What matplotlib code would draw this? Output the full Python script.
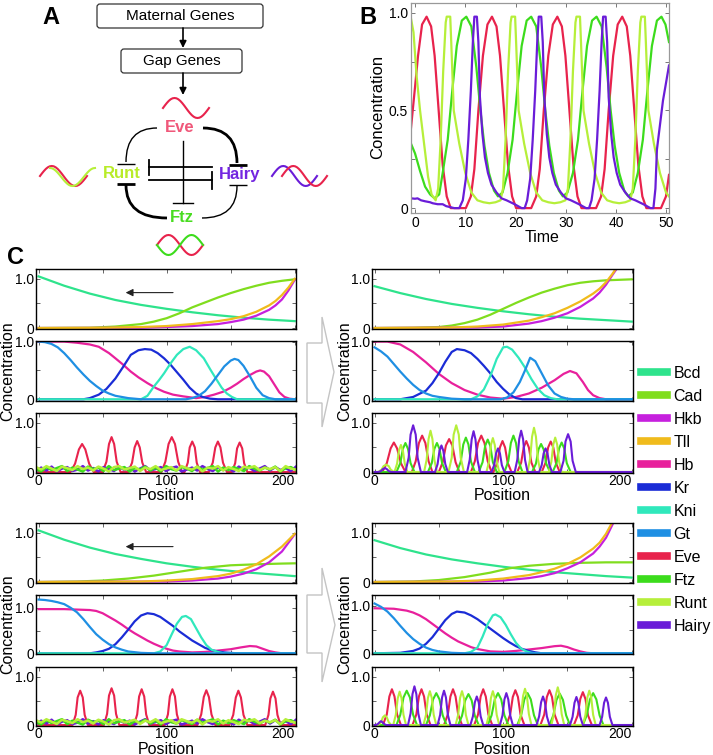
import numpy as np
import matplotlib
matplotlib.use("Agg")
import matplotlib.pyplot as plt
from matplotlib.patches import FancyBboxPatch, Polygon, PathPatch
from matplotlib.path import Path
from matplotlib.lines import Line2D

plt.rcParams['font.family'] = ['Liberation Sans', 'DejaVu Sans']

# ---------------- colours / legend ----------------
gene_names = ["Bcd", "Cad", "Hkb", "Tll", "Hb", "Kr", "Kni", "Gt", "Eve", "Ftz", "Runt", "Hairy"]
gene_colors = ["#2ee38c", "#80dd1e", "#c620de", "#f0bb1c", "#e8209c", "#1a2cd6",
               "#30e8bc", "#1f8fe3", "#e8234c", "#3cdc1c", "#b6ef3a", "#6a1cd8"]
col = dict(zip(gene_names, gene_colors))

# ---------------- panel B: oscillator time courses ----------------
b_eve = [(-0.8,.41),(0,.62),(0.6,.78),(1.4,.94),(2.3,.98),(3.2,.93),(3.9,.78),(4.7,.5),(5.5,.22),(6.3,.06),(7.1,0),
         (10.1,0),(11.1,.06),(11.8,.2),(12.6,.5),(13.5,.78),(14.4,.94),(15.3,.98),(16.2,.93),(16.9,.78),(17.7,.5),(18.5,.22),(19.3,.06),(20.1,0),
         (23.1,0),(24.1,.06),(24.8,.2),(25.6,.5),(26.5,.78),(27.4,.94),(28.3,.98),(29.2,.93),(29.9,.78),(30.7,.5),(31.5,.22),(32.3,.06),(33.1,0),
         (36.0,0),(37.0,.06),(37.7,.2),(38.5,.5),(39.4,.78),(40.3,.94),(41.2,.98),(42.1,.93),(42.8,.78),(43.6,.5),(44.4,.22),(45.2,.06),(46.0,0),
         (48.9,0),(49.9,.06),(50.5,.17)]
b_ftz = [(-0.8,.33),(0,.28),(1,.19),(2,.11),(3,.07),(3.9,.05),(4.8,.07),(5.5,.18),(6.5,.35),(7.4,.6),(8.3,.83),(9.3,.96),(10.2,.98),
         (11.2,.93),(12.2,.72),(13.0,.5),(13.8,.32),(14.7,.18),(15.7,.09),(16.5,.06),(17.4,.08),(18.4,.18),(19.4,.35),(20.3,.6),(21.2,.83),(22.2,.96),(23.1,.98),
         (24.1,.93),(25.1,.72),(25.9,.5),(26.7,.32),(27.6,.18),(28.6,.09),(29.4,.06),(30.3,.08),(31.4,.18),(32.4,.35),(33.3,.6),(34.2,.83),(35.2,.96),(36.1,.98),
         (37.1,.93),(38.1,.72),(38.9,.5),(39.7,.32),(40.6,.18),(41.6,.09),(42.4,.06),(43.3,.08),(44.3,.18),(45.3,.35),(46.2,.6),(47.1,.83),(48.1,.96),(49.0,.98),
         (49.8,.94),(50.5,.85)]
b_runt = [(-0.8,.97),(-0.3,.9),(0.3,.68),(1.0,.5),(1.8,.33),(2.6,.16),(3.3,.07),(4.1,.04),(4.6,.1),(5.1,.35),(5.6,.7),(6.1,.95),(6.3,.98),(7.0,.98),
          (7.2,.85),(7.7,.5),(8.8,.33),(10.0,.18),(11.2,.08),(12.4,.04),(13.6,.03),(14.8,.025),(16.0,.03),
          (17.0,.04),(17.5,.1),(18.0,.35),(18.5,.7),(19.0,.95),(19.2,.98),(19.9,.98),(20.1,.85),(20.6,.5),(21.7,.33),(22.9,.18),(24.1,.08),(25.3,.04),(26.5,.03),(27.7,.025),(28.9,.03),
          (29.9,.04),(30.4,.1),(30.9,.35),(31.4,.7),(31.9,.95),(32.1,.98),(32.8,.98),(33.0,.85),(33.5,.5),(34.6,.33),(35.8,.18),(37.0,.08),(38.2,.04),(39.4,.03),(40.6,.025),(41.8,.03),
          (42.8,.04),(43.3,.1),(43.8,.35),(44.3,.7),(44.8,.95),(45.0,.98),(45.7,.98),(45.9,.85),(46.4,.5),(47.5,.33),(48.7,.18),(49.9,.08),(50.5,.06)]
b_hairy = [(-0.8,.05),(0,.048),(0.5,.05),(1.2,.04),(2,.035),(3,.03),(3.5,.025),(4.5,.02),(5.5,.02),(6.2,.01),(7,.005),(7.8,0),(8.8,0),
           (9.5,.04),(10.1,.15),(10.6,.35),(11.1,.6),(11.5,.85),(11.8,.98),(12.3,.98),(12.6,.85),(12.9,.57),(13.4,.38),(13.9,.26),(14.5,.18),(15.2,.12),
           (16.2,.08),(17.2,.05),(18.2,.04),(19,.03),(19.8,.02),(20.5,.01),(21.2,0),(21.8,0),
           (22.3,.04),(22.9,.15),(23.4,.35),(23.9,.6),(24.3,.85),(24.6,.98),(25.1,.98),(25.4,.85),(25.7,.57),(26.2,.38),(26.7,.26),(27.3,.18),(28.0,.12),
           (29.0,.08),(30.0,.05),(31.0,.04),(31.8,.03),(32.6,.02),(33.3,.01),(34.0,0),(34.6,0),
           (35.1,.04),(35.7,.15),(36.2,.35),(36.7,.6),(37.1,.85),(37.4,.98),(37.9,.98),(38.2,.85),(38.5,.57),(39.0,.38),(39.5,.26),(40.1,.18),(40.8,.12),
           (41.8,.08),(42.8,.05),(43.8,.04),(44.6,.03),(45.4,.02),(46.1,.01),(46.8,0),(47.4,0),
           (47.8,.1),(48.1,.3),(49.3,.55),(50.5,.73)]

# ---------------- panel C: maternal gradients (top rows) ----------------
ul_bcd = ([0,20,40,60,80,100,120,140,160,180,200], [1.05,.86,.70,.57,.47,.39,.32,.26,.21,.17,.14])
ul_cad = ([0,40,60,80,90,100,110,120,130,140,150,160,170,180,190,200],
          [0,.005,.03,.08,.13,.2,.3,.42,.52,.62,.71,.79,.86,.92,.96,.99])
ul_tll = ([0,50,80,100,120,140,150,160,170,180,185,190,195,200],
          [0,.005,.02,.04,.08,.14,.18,.24,.33,.46,.55,.67,.82,1.0])
ul_hkb = ([0,80,100,120,140,150,160,170,180,185,190,195,200],
          [0,.005,.02,.04,.08,.12,.17,.25,.37,.46,.58,.76,.98])

ur_bcd = ([0,20,40,60,80,100,120,140,160,180,200], [.85,.71,.59,.49,.41,.34,.28,.23,.19,.16,.13])
ur_cad = ([0,30,50,60,70,80,90,100,110,120,130,140,150,160,170,180,190,200],
          [0,.005,.02,.05,.1,.17,.27,.39,.51,.62,.72,.8,.87,.92,.95,.97,.98,.99])
ur_tll = ([0,60,80,100,120,130,140,150,160,170,175,180,185,188],
          [0,.01,.03,.07,.15,.22,.3,.41,.54,.7,.8,.93,1.1,1.22])
ur_hkb = ([0,80,100,120,130,140,150,160,170,175,180,185,189],
          [0,.01,.03,.09,.14,.21,.3,.43,.6,.72,.88,1.08,1.23])

ll_bcd = ([0,20,40,60,80,100,120,140,160,180,200], [1.05,.86,.70,.57,.47,.38,.31,.25,.2,.16,.12])
ll_cad = ([0,30,50,70,90,110,130,150,170,190,200], [0,.01,.03,.07,.13,.21,.29,.34,.36,.375,.38])
ll_tll = ([0,80,100,120,140,150,160,170,180,190,200], [0,.01,.03,.06,.12,.17,.25,.36,.52,.72,.98])
ll_hkb = ([0,100,120,140,150,160,170,180,190,200], [0,.01,.03,.07,.11,.17,.26,.4,.62,.97])

lr_bcd = ([0,20,40,60,80,100,120,140,160,180,200], [.85,.69,.56,.46,.38,.31,.25,.2,.16,.12,.09])
lr_cad = ([0,30,50,70,90,105,120,140,160,180,200], [0,.01,.04,.1,.19,.28,.33,.37,.39,.4,.4])
lr_tll = ([0,60,80,100,120,130,140,150,160,170,175,180,185],
          [0,.01,.03,.07,.14,.2,.27,.37,.5,.68,.8,.98,1.22])
lr_hkb = ([0,80,100,120,130,140,150,160,170,175,180,186],
          [0,.01,.03,.08,.12,.18,.28,.4,.58,.72,.9,1.22])

# ---------------- panel C: gap genes (middle rows) ----------------
ul_gt = ([0,5,10,15,20,25,30,35,40,45,50,55,60,70,80,115,120,125,130,135,140,145,150,153,156,160,165,170,175,180,185,200],
         [1.0,.99,.96,.9,.8,.68,.55,.43,.32,.23,.15,.1,.06,.02,0,0,.02,.06,.14,.27,.42,.57,.67,.7,.68,.58,.4,.2,.07,.02,0,0])
ul_hb = ([0,20,30,40,47,55,60,66,72,78,85,92,98,105,113,123,130,137,144,150,155,160,165,170,173,176,180,184,188,192,196,200],
         [1.0,1.0,.98,.95,.91,.8,.71,.6,.48,.38,.28,.19,.13,.08,.05,.02,.04,.08,.13,.2,.27,.35,.42,.48,.5,.48,.4,.26,.12,.04,.01,0])
ul_kr = ([0,35,40,47,53,60,66,72,78,83,88,93,98,103,108,113,118,123,128,134,140,200],
         [0,0,.02,.08,.18,.36,.56,.77,.85,.87,.86,.8,.71,.6,.47,.34,.2,.1,.04,.01,0,0])
ul_kni = ([0,80,85,90,94,98,103,108,113,118,123,129,134,139,143,147,151,155,200],
          [0,0,.06,.22,.33,.45,.62,.77,.87,.91,.85,.71,.52,.34,.2,.1,.04,0,0])

ur_gt = ([0,5,10,15,20,25,30,35,40,45,50,60,70,98,103,108,113,117,121,125,130,135,140,145,150,155,200],
         [.9,.83,.74,.61,.48,.36,.25,.16,.1,.06,.04,.01,0,0,.03,.12,.3,.5,.72,.66,.45,.24,.1,.04,.01,0,0])
ur_hb = ([0,10,20,30,40,50,60,70,80,90,100,110,120,130,140,147,152,157,162,166,170,175,180,200],
         [1.0,1.0,.95,.82,.64,.44,.28,.16,.08,.03,.01,.04,.1,.2,.33,.44,.49,.45,.3,.16,.07,.02,0,0])
ur_kr = ([0,20,30,40,45,50,55,60,64,70,75,80,85,90,95,100,105,110,115,200],
         [0,0,.04,.15,.28,.45,.65,.82,.87,.85,.8,.7,.58,.45,.3,.18,.08,.02,0,0])
ur_kni = ([0,75,80,85,90,95,100,103,107,112,117,122,127,132,137,142,200],
          [0,0,.05,.17,.4,.7,.9,.91,.86,.72,.55,.35,.18,.07,.02,0,0])

ll_gt = ([0,5,10,15,20,25,30,35,40,45,50,55,60,65,70,80,90,200],
         [1.18,1.17,1.15,1.12,1.08,1.0,.9,.75,.58,.42,.3,.2,.13,.08,.04,.01,0,0])
ll_hb = ([0,20,30,40,45,50,55,60,65,70,75,80,85,90,95,100,105,110,120,130,140,150,158,165,170,175,180,185,190,200],
         [.97,.97,.96,.95,.93,.88,.8,.72,.63,.53,.44,.36,.28,.21,.15,.1,.06,.04,.02,.03,.06,.09,.13,.16,.15,.1,.05,.02,0,0])
ll_kr = ([0,40,45,50,55,60,65,70,75,80,85,90,95,100,105,110,115,120,125,130,135,140,145,150,155,200],
         [0,0,.02,.05,.1,.2,.35,.52,.7,.83,.88,.86,.8,.7,.6,.48,.38,.28,.2,.12,.07,.04,.02,.01,0,0])
ll_kni = ([0,90,95,100,104,108,112,115,119,123,127,131,135,140,145,200],
          [0,0,.04,.18,.42,.65,.8,.82,.75,.55,.35,.18,.08,.03,0,0])

lr_gt = ([0,5,10,15,20,25,30,35,40,45,50,60,70,200],
         [1.05,.98,.88,.74,.58,.43,.3,.2,.12,.07,.04,.01,0,0])
lr_hb = ([0,15,25,30,35,40,45,50,55,60,65,70,75,80,90,100,110,120,130,140,145,150,155,160,165,170,200],
         [.95,.94,.9,.86,.8,.72,.62,.52,.42,.33,.25,.19,.13,.09,.04,.03,.05,.08,.11,.15,.16,.13,.08,.04,.01,0,0])
lr_kr = ([0,20,30,35,40,45,50,55,60,64,70,75,80,85,90,95,100,105,110,115,120,125,130,200],
         [0,.01,.05,.1,.2,.34,.52,.7,.83,.88,.86,.8,.72,.62,.52,.42,.32,.23,.15,.09,.05,.02,0,0])
lr_kni = ([0,70,75,80,84,88,92,94,98,102,106,110,114,118,122,126,200],
          [0,0,.03,.12,.35,.62,.8,.82,.76,.6,.4,.22,.1,.04,.01,0,0])

# ---------------- panel C: pair-rule stripes (bottom rows) ----------------
ul_eve = [(0,0),
          (25,0),(28.5,.17),(31.5,.46),(34,.57),(36.5,.46),(39.5,.17),(43,0),
          (50,0),(53,.21),(55,.57),(57,.71),(59,.57),(61,.21),(64,0),
          (70,0),(73,.19),(75,.5),(77,.63),(79,.5),(81,.19),(84,0),
          (96,0),(99,.21),(101.5,.57),(104,.71),(106.5,.57),(109,.21),(112,0),
          (114,0),(116.5,.19),(118,.5),(120,.62),(122,.5),(123.5,.19),(126,0),
          (133,0),(136,.19),(138,.5),(140,.62),(142,.5),(144,.19),(147,0),
          (151,0),(153.5,.18),(155,.48),(157,.6),(159,.48),(160.5,.18),(163,0),
          (200,0)]
ll_eve = [(0,0),
          (26.5,0),(29,.21),(30.5,.57),(32.5,.71),(34.5,.57),(36,.21),(38.5,0),
          (51,0),(53.5,.23),(55,.61),(57,.76),(59,.61),(60.5,.23),(63,0),
          (74.5,0),(77,.22),(78.5,.59),(80.5,.74),(82.5,.59),(84,.22),(86.5,0),
          (98.5,0),(101,.22),(102.5,.59),(104.5,.74),(106.5,.59),(108,.22),(110.5,0),
          (124,0),(127,.22),(129,.58),(131,.72),(133,.58),(135,.22),(138,0),
          (149,0),(152,.21),(154,.57),(156,.71),(158,.57),(160,.21),(163,0),
          (177,0),(179.5,.21),(181,.55),(183,.69),(185,.55),(186.5,.21),(189,0),
          (200,0)]
# unpatterned (noisy) pair-rule levels in the left-hand simulations
noise_hairy = [.02,.09,.03,.11,.01,.07,.10,.02,.05,.12,.03,.08,.01,.10,.06,.02,.11,.04,.09,.01,.07,.12,.03,.06,.10,.02,
               .08,.11,.01,.05,.09,.03,.12,.06,.02,.10,.04,.08,.01,.11,.05,.09,.02,.07,.12,.03,.10,.04,.08,.02,.11]
noise_ftz = [.06,.01,.10,.04,.08,.12,.02,.09,.05,.01,.11,.06,.09,.02,.12,.04,.07,.10,.01,.08,.05,.11,.03,.09,.01,.12,
             .06,.03,.10,.07,.02,.11,.05,.08,.12,.01,.09,.04,.10,.06,.02,.12,.07,.03,.09,.05,.11,.01,.08,.10,.04]
noise_runt = [.10,.05,.12,.07,.02,.11,.08,.04,.12,.06,.09,.03,.11,.07,.01,.10,.12,.05,.08,.11,.02,.09,.06,.12,.04,.07,
              .10,.03,.12,.08,.05,.11,.01,.09,.07,.12,.03,.10,.06,.02,.11,.08,.12,.04,.09,.06,.10,.02,.12,.07,.05]

ur_eve = [(0,0),
          (6,0),(9.5,.18),(12.5,.48),(15,.6),(17.5,.48),(20.5,.18),(24,0),
          (29,0),(32,.22),(34.5,.59),(37,.74),(39.5,.59),(42,.22),(45,0),
          (50,0),(53,.2),(55.5,.54),(58,.67),(60.5,.54),(63,.2),(66,0),
          (75,0),(78,.22),(80.5,.59),(83,.74),(85.5,.59),(88,.22),(91,0),
          (92.5,0),(95.5,.19),(97.5,.5),(99.5,.63),(101.5,.5),(103.5,.19),(106.5,0),
          (111,0),(114,.19),(116,.5),(118,.63),(120,.5),(122,.19),(125,0),
          (130,0),(133,.19),(135,.5),(137,.62),(139,.5),(141,.19),(144,0),
          (200,0)]
ur_hairy = [(0,0),
            (3,0),(5,.02),(6.5,.06),(8,.08),(9.5,.06),(11,.02),(13,0),
            (24,0),(26.5,.29),(28,.76),(30,.95),(32,.76),(33.5,.29),(36,0),
            (47,0),(49,.16),(50.5,.43),(52,.54),(53.5,.43),(55,.16),(57,0),
            (72,0),(74,.25),(75.5,.66),(77,.83),(78.5,.66),(80,.25),(82,0),
            (91,0),(93,.14),(94.5,.38),(96,.48),(97.5,.38),(99,.14),(101,0),
            (109,0),(111,.25),(112.5,.67),(114,.84),(115.5,.67),(117,.25),(119,0),
            (128,0),(130,.14),(131.5,.38),(133,.48),(134.5,.38),(136,.14),(138,0),
            (144.5,0),(147,.23),(148.5,.62),(150.5,.77),(152.5,.62),(154,.23),(156.5,0),
            (200,0)]
ur_runt = [(0,0),
           (3,0),(5.5,.05),(7,.12),(9,.15),(11,.12),(12.5,.05),(15,0),
           (15.5,0),(17.5,.17),(19,.44),(20.5,.55),(22,.44),(23.5,.17),(25.5,0),
           (38.5,0),(40.5,.25),(42,.67),(43.5,.84),(45,.67),(46.5,.25),(48.5,0),
           (57.5,0),(60,.29),(61.5,.76),(63.5,.95),(65.5,.76),(67,.29),(69.5,0),
           (87,0),(89,.21),(90.5,.55),(92,.69),(93.5,.55),(95,.21),(97,0),
           (119,0),(121,.27),(122.5,.72),(124,.9),(125.5,.72),(127,.27),(129,0),
           (135.5,0),(137.5,.21),(139,.56),(140.5,.7),(142,.56),(143.5,.21),(145.5,0),
           (200,0)]
ur_ftz = [(0,0),
          (17,0),(20,.18),(22,.47),(24,.59),(26,.47),(28,.18),(31,0),
          (41.5,0),(44.5,.18),(46.5,.47),(48.5,.59),(50.5,.47),(52.5,.18),(55.5,0),
          (64,0),(67,.21),(69,.56),(71,.7),(73,.56),(75,.21),(78,0),
          (81,0),(84,.2),(86,.53),(88,.66),(90,.53),(92,.2),(95,0),
          (101,0),(104,.22),(106,.59),(108,.74),(110,.59),(112,.22),(115,0),
          (122.5,0),(125.5,.17),(127.5,.46),(129.5,.57),(131.5,.46),(133.5,.17),(136.5,0),
          (138.5,0),(141.5,.18),(143.5,.48),(145.5,.6),(147.5,.48),(149.5,.18),(152.5,0),
          (200,0)]

lr_eve = [(0,0),
          (6.5,0),(9.5,.22),(11.5,.59),(13.5,.74),(15.5,.59),(17.5,.22),(20.5,0),
          (29.5,0),(32.5,.22),(34.5,.59),(36.5,.74),(38.5,.59),(40.5,.22),(43.5,0),
          (54,0),(57,.22),(59,.59),(61,.74),(63,.59),(65,.22),(68,0),
          (77.5,0),(80.5,.22),(82.5,.59),(84.5,.74),(86.5,.59),(88.5,.22),(91.5,0),
          (102.5,0),(105.5,.22),(107.5,.58),(109.5,.72),(111.5,.58),(113.5,.22),(116.5,0),
          (129,0),(132,.22),(134,.58),(136,.72),(138,.58),(140,.22),(143,0),
          (155,0),(158,.2),(160,.54),(162,.68),(164,.54),(166,.2),(169,0),
          (200,0)]
lr_hairy = [(0,0),
            (1,0),(2.5,.02),(4,.06),(5,.08),(6,.06),(7.5,.02),(9,0),
            (26,0),(28,.24),(29.5,.64),(31,.8),(32.5,.64),(34,.24),(36,0),
            (49,0),(51,.21),(52.5,.57),(54,.71),(55.5,.57),(57,.21),(59,0),
            (74.5,0),(76.5,.18),(78,.47),(79.5,.59),(81,.47),(82.5,.18),(84.5,0),
            (97.5,0),(99.5,.2),(101,.53),(102.5,.66),(104,.53),(105.5,.2),(107.5,0),
            (126,0),(128,.18),(129.5,.47),(131,.59),(132.5,.47),(134,.18),(136,0),
            (152,0),(154,.17),(155.5,.46),(157,.58),(158.5,.46),(160,.17),(162,0),
            (175,0),(177,.17),(178.5,.46),(180,.57),(181.5,.46),(183,.17),(185,0),
            (200,0)]
lr_ftz = [(0,0),
          (17,0),(20,.21),(22.5,.57),(25,.71),(27.5,.57),(30,.21),(33,0),
          (40,0),(43,.2),(45.5,.53),(48,.66),(50.5,.53),(53,.2),(56,0),
          (65,0),(68,.19),(70.5,.51),(73,.64),(75.5,.51),(78,.19),(81,0),
          (88,0),(91,.2),(93.5,.53),(96,.66),(98.5,.53),(101,.2),(104,0),
          (111,0),(114,.2),(116.5,.53),(119,.66),(121.5,.53),(124,.2),(127,0),
          (136,0),(139,.2),(141.5,.52),(144,.65),(146.5,.52),(149,.2),(152,0),
          (162,0),(165,.2),(167.5,.53),(170,.66),(172.5,.53),(175,.2),(178,0),
          (200,0)]
lr_runt = [(0,0),
           (3,0),(5,.06),(6.5,.16),(8,.2),(9.5,.16),(11,.06),(13,0),
           (14.5,0),(16.5,.21),(18,.55),(19.5,.69),(21,.55),(22.5,.21),(24.5,0),
           (38,0),(40,.21),(41.5,.56),(43,.7),(44.5,.56),(46,.21),(48,0),
           (63,0),(65,.21),(66.5,.56),(68,.7),(69.5,.56),(71,.21),(73,0),
           (87,0),(89,.21),(90.5,.56),(92,.7),(93.5,.56),(95,.21),(97,0),
           (112,0),(114,.23),(115.5,.6),(117,.75),(118.5,.6),(120,.23),(122,0),
           (137.5,0),(139.5,.23),(141,.62),(142.5,.78),(144,.62),(145.5,.23),(147.5,0),
           (162,0),(164,.21),(165.5,.57),(167,.71),(168.5,.57),(170,.21),(172,0),
           (200,0)]

# one period of the little wave icons in panel A
wave_icon = [0,.26,.5,.71,.87,.97,1,.97,.87,.71,.5,.26,0,-.26,-.5,-.71,-.87,-.97,-1,-.97,-.87,-.71,-.5,-.26,0]

# ================================================================
W, H = 713, 755
fig = plt.figure(figsize=(W / 100, H / 100), dpi=100)


def px_axes(left, top, right, bottom):
    return fig.add_axes([left / W, 1 - bottom / H, (right - left) / W, (bottom - top) / H])


def xy(pairs):
    return [p[0] for p in pairs], [p[1] for p in pairs]


# ---------- overlay for panel A, letters and block arrows ----------
ov = fig.add_axes([0, 0, 1, 1])
ov.set_xlim(0, W)
ov.set_ylim(H, 0)
ov.axis("off")

for lab, (lx, ly) in zip(["A", "B", "C"], [(51, 18), (368, 17), (16, 257)]):
    ov.text(lx, ly, lab, fontsize=17, fontweight="bold", ha="center", va="center")

ov.add_patch(FancyBboxPatch((97, 4), 166, 24, boxstyle="round,pad=0,rounding_size=3",
                            fc="white", ec="#333333", lw=0.9))
ov.add_patch(FancyBboxPatch((121, 49), 121, 24, boxstyle="round,pad=0,rounding_size=3",
                            fc="white", ec="#333333", lw=0.9))
ov.text(180, 16.5, "Maternal Genes", ha="center", va="center", fontsize=11)
ov.text(181.5, 61.5, "Gap Genes", ha="center", va="center", fontsize=11)
for y0, y1 in [(28, 48), (73, 95)]:
    ov.annotate("", xy=(183, y1), xytext=(183, y0),
                arrowprops=dict(arrowstyle="-|>", color="black", lw=1.2,
                                mutation_scale=10, shrinkA=0, shrinkB=0))

ov.text(180, 128, "Eve", color="#f0587a", fontsize=12, fontweight="bold", ha="center", va="center")
ov.text(122, 173, "Runt", color="#b8ec28", fontsize=12, fontweight="bold", ha="center", va="center")
ov.text(240, 175, "Hairy", color="#7326e0", fontsize=12, fontweight="bold", ha="center", va="center")
ov.text(182, 218, "Ftz", color="#48dc20", fontsize=12, fontweight="bold", ha="center", va="center")

# curved repression arcs (quadratic corners)
arcs = [((157, 128), (126, 128), (126, 162), 1.0),
        ((203, 128), (237, 128), (237, 163), 2.0),
        ((126, 185), (126, 218), (167, 218), 2.0),
        ((237, 186), (237, 218), (202, 218), 1.0)]
for p0, pc, p1, lw in arcs:
    ov.add_patch(PathPatch(Path([p0, pc, p1], [Path.MOVETO, Path.CURVE3, Path.CURVE3]),
                           fill=False, ec="black", lw=lw))
for xa, xb, yb, lw in [(117, 135, 164, 1.0), (229, 247, 165, 2.0), (117, 135, 184, 2.0), (229, 247, 185, 1.0)]:
    ov.plot([xa, xb], [yb, yb], color="black", lw=lw, solid_capstyle="butt")
# central cross
ov.plot([183, 183], [141, 203], color="black", lw=1.0)
ov.plot([173, 193], [203, 203], color="black", lw=1.0)
ov.plot([149, 212], [167, 167], color="black", lw=1.3)
ov.plot([149, 149], [160, 175], color="black", lw=1.3)
ov.plot([149, 212], [180, 180], color="black", lw=1.3)
ov.plot([212, 212], [172, 189], color="black", lw=1.3)

# wave icons
wv = np.array(wave_icon)
n = len(wv)
cosw = np.array(wave_icon[6:] + wave_icon[1:7])
ov.plot(np.linspace(163, 209, n), 108 - 10 * wv, color=col["Eve"], lw=1.5)
ov.plot(np.linspace(40, 87, n), 176 - 10 * wv, color=col["Eve"], lw=1.5)
ov.plot(np.linspace(50, 95, n), 177 - 9 * cosw, color=col["Runt"], lw=1.5)
ov.plot(np.linspace(272, 317, n), 176 - 10 * wv, color=col["Hairy"], lw=1.5)
ov.plot(np.linspace(282, 327, n), 176 - 10 * wv, color=col["Eve"], lw=1.5)
ov.plot(np.linspace(157, 203, n), 245 - 10 * wv, color=col["Eve"], lw=1.5)
ov.plot(np.linspace(157, 203, n), 245 + 10 * wv, color=col["Ftz"], lw=1.5)

# hollow block arrows between columns
for pts in [[(307, 343), (322, 343), (322, 317), (334, 372), (322, 427), (322, 403), (307, 403)],
            [(307, 595), (322, 595), (322, 568), (335, 625), (322, 682), (322, 653), (307, 653)]]:
    ov.add_patch(Polygon(pts, closed=True, fc="white", ec="#c4c4c4", lw=1.0))

# ---------- panel B ----------
axb = px_axes(411, 3, 669, 213)
for name, data in [("Eve", b_eve), ("Ftz", b_ftz), ("Runt", b_runt), ("Hairy", b_hairy)]:
    t, c = xy(data)
    axb.plot(t, c, color=col[name], lw=1.6)
axb.set_xlim(-0.8, 50.5)
axb.set_ylim(-0.025, 1.05)
axb.set_xticks([0, 10, 20, 30, 40, 50])
axb.set_yticks([0, 0.25, 0.5, 0.75, 1.0])
axb.set_yticklabels(["0", "", "0.5", "", "1.0"])
axb.tick_params(direction="in", top=True, right=True, length=3, width=0.7, labelsize=10,
                pad=2, color="#777777")
for s in axb.spines.values():
    s.set_color("#999999")
    s.set_linewidth(0.9)
fig.text(378 / W, 1 - 107 / H, "Concentration", rotation=90, ha="center", va="center", fontsize=12)
fig.text(542 / W, 1 - 238 / H, "Time", ha="center", va="center", fontsize=11.5)


# ---------- panel C ----------
def style_c(ax, ylim, labels):
    ax.set_xlim(-2, 201)
    ax.set_ylim(*ylim)
    ax.set_xticks([0, 50, 100, 150, 200])
    ax.set_yticks([0, 0.5, 1.0])
    ax.set_yticklabels(["0", "", "1.0"])
    if labels:
        ax.set_xticklabels(["0", "", "100", "", "200"])
        ax.get_xticklabels()[-1].set_horizontalalignment("right")
    else:
        ax.set_xticklabels([])
    ax.tick_params(direction="in", top=True, right=True, length=3, width=0.7, labelsize=10,
                   pad=1, color="#666666")
    for s in ax.spines.values():
        s.set_linewidth(1.0)


columns = [
    dict(x=(36, 296), rows=[(269, 329), (341, 401), (413, 473)],
         top=[("Bcd", ul_bcd), ("Cad", ul_cad), ("Hkb", ul_hkb), ("Tll", ul_tll)],
         mid=[("Hb", ul_hb), ("Kr", ul_kr), ("Kni", ul_kni), ("Gt", ul_gt)],
         midlim=(-0.03, 1.01), eve=ul_eve, stripes=None, arrow=True),
    dict(x=(372, 633), rows=[(269, 329), (341, 401), (413, 473)],
         top=[("Bcd", ur_bcd), ("Cad", ur_cad), ("Hkb", ur_hkb), ("Tll", ur_tll)],
         mid=[("Hb", ur_hb), ("Kr", ur_kr), ("Kni", ur_kni), ("Gt", ur_gt)],
         midlim=(-0.03, 1.01), eve=ur_eve,
         stripes=[("Ftz", ur_ftz), ("Runt", ur_runt), ("Hairy", ur_hairy)], arrow=False),
    dict(x=(36, 296), rows=[(523, 583), (595, 654), (667, 726)],
         top=[("Bcd", ll_bcd), ("Cad", ll_cad), ("Hkb", ll_hkb), ("Tll", ll_tll)],
         mid=[("Hb", ll_hb), ("Kr", ll_kr), ("Kni", ll_kni), ("Gt", ll_gt)],
         midlim=(-0.015, 1.28), eve=ll_eve, stripes=None, arrow=True),
    dict(x=(372, 633), rows=[(523, 583), (595, 654), (667, 726)],
         top=[("Bcd", lr_bcd), ("Cad", lr_cad), ("Hkb", lr_hkb), ("Tll", lr_tll)],
         mid=[("Hb", lr_hb), ("Kr", lr_kr), ("Kni", lr_kni), ("Gt", lr_gt)],
         midlim=(-0.015, 1.23), eve=lr_eve,
         stripes=[("Ftz", lr_ftz), ("Runt", lr_runt), ("Hairy", lr_hairy)], arrow=False),
]

for cdef in columns:
    x0, x1 = cdef["x"]
    (t0, b0), (t1, b1), (t2, b2) = cdef["rows"]

    ax_top = px_axes(x0, t0, x1, b0)
    for name, (px, py) in cdef["top"]:
        ax_top.plot(px, py, color=col[name], lw=1.6)
    style_c(ax_top, (-0.02, 1.2), False)
    if cdef["arrow"]:
        ax_top.annotate("", xy=(68, 0.72), xytext=(105, 0.72),
                        arrowprops=dict(arrowstyle="-|>", color="#222222", lw=0.8,
                                        mutation_scale=11, shrinkA=0, shrinkB=0))

    ax_mid = px_axes(x0, t1, x1, b1)
    for name, (px, py) in cdef["mid"]:
        ax_mid.plot(px, py, color=col[name], lw=1.6)
    style_c(ax_mid, cdef["midlim"], False)

    ax_bot = px_axes(x0, t2, x1, b2)
    ex, ey = xy(cdef["eve"])
    ax_bot.plot(ex, ey, color=col["Eve"], lw=1.5)
    if cdef["stripes"] is None:
        for name, vals in [("Hairy", noise_hairy), ("Ftz", noise_ftz), ("Runt", noise_runt)]:
            ax_bot.plot(np.linspace(-2, 201, len(vals)), vals, color=col[name], lw=1.8)
    else:
        for name, data in cdef["stripes"]:
            sx, sy = xy(data)
            ax_bot.plot(sx, sy, color=col[name], lw=1.5)
    style_c(ax_bot, (-0.02, 1.2), True)

    cx = (x0 + x1) / 2
    ylab_x = 8 if x0 < 100 else 345
    fig.text(ylab_x / W, 1 - (t1 + b1) / 2 / H, "Concentration", rotation=90,
             ha="center", va="center", fontsize=11.5)
    fig.text(cx / W, 1 - (b2 + 23) / H, "Position", ha="center", va="center", fontsize=11.5)

# ---------- legend ----------
handles = [Line2D([0], [0], color=c, lw=5.5) for c in gene_colors]
fig.legend(handles, gene_names, loc="upper left", bbox_to_anchor=(641 / W, 1 - 366 / H),
           frameon=False, fontsize=11.5, handlelength=1.6, handletextpad=0.45,
           labelspacing=0.5, borderpad=0, borderaxespad=0)

fig.savefig("out.png", dpi=100)
